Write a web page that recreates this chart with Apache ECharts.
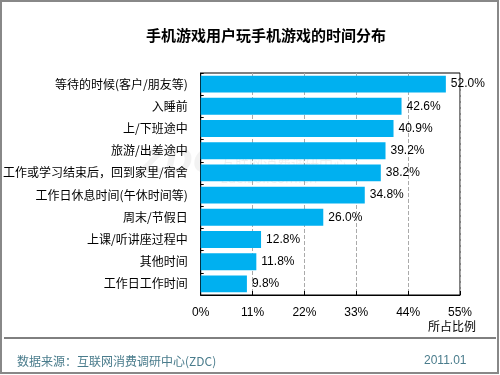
<!DOCTYPE html>
<html>
<head>
<meta charset="utf-8">
<script src="https://cdn.jsdelivr.net/npm/echarts@6/dist/echarts.min.js"></script>
<style>
  html, body { margin: 0; padding: 0; background: #fff; }
  #main { width: 500px; height: 375px; }
</style>
</head>
<body>
<div id="main"></div>
<script>
// 分类（自上而下）
const categories = [
    '等待的时候(客户/朋友等)',
    '入睡前',
    '上/下班途中',
    '旅游/出差途中',
    '工作或学习结束后，回到家里/宿舍',
    '工作日休息时间(午休时间等)',
    '周末/节假日',
    '上课/听讲座过程中',
    '其他时间',
    '工作日工作时间'
];
// 所占比例 (%)
const shares = [52.0, 42.6, 40.9, 39.2, 38.2, 34.8, 26.0, 12.8, 11.8, 9.8];
const axisMax = 55;
const axisStep = 11;

const chart = echarts.init(document.getElementById('main'));
const cnFont = '"Noto Sans CJK SC", "Liberation Sans", sans-serif';
const numFont = '"Liberation Sans", Arial, sans-serif';

chart.setOption({
    animation: false,
    backgroundColor: '#fff',
    textStyle: { fontFamily: cnFont },
    title: {
        text: '手机游戏用户玩手机游戏的时间分布',
        left: 261,
        top: 23,
        textAlign: 'center',
        textStyle: { fontSize: 15, fontWeight: 'bold', color: '#000', fontFamily: cnFont }
    },
    grid: {
        left: 198, right: 40, top: 73, bottom: 80,
        show: true, borderColor: '#000', borderWidth: 1
    },
    xAxis: {
        type: 'value',
        min: 0, max: axisMax, interval: axisStep,
        axisLine: { show: true, lineStyle: { color: '#000' } },
        axisTick: { show: true, inside: true, length: 4, lineStyle: { color: '#000' } },
        axisLabel: { color: '#000', fontSize: 12, margin: 12, fontFamily: numFont, formatter: '{value}%' },
        splitLine: { show: true, lineStyle: { color: '#aaa', type: 'dashed' } }
    },
    yAxis: {
        type: 'category',
        data: categories,
        inverse: true,
        axisLine: { show: true, lineStyle: { color: '#000' } },
        axisTick: { show: true, inside: true, length: 3, lineStyle: { color: '#000' } },
        axisLabel: { color: '#000', fontSize: 12, margin: 13 }
    },
    series: [{
        type: 'bar',
        data: shares,
        barCategoryGap: '24%',
        itemStyle: { color: '#00b0f0' },
        label: {
            show: true,
            position: 'right',
            distance: 5,
            color: '#000',
            fontSize: 12,
            fontFamily: numFont,
            formatter: p => p.value.toFixed(1) + '%'
        }
    }],
    graphic: [
        // 外框
        { type: 'rect', shape: { x: 1, y: 1, width: 497, height: 372 }, style: { fill: 'none', stroke: '#888', lineWidth: 2 }, silent: true },
        // 水印
        { type: 'text', left: 140, top: 147, z: 0, style: { text: 'ZDC', fill: 'rgba(0,0,0,0.05)', font: 'italic bold 34px "DejaVu Sans"' } },
        { type: 'text', left: 221, top: 157, z: 0, style: { text: '互联网消费调研中心', fill: 'rgba(0,0,0,0.06)', font: '14px "Noto Sans CJK SC"' } },
        { type: 'text', left: 221, top: 173, z: 0, style: { text: 'zdc.zol.com.cn', fill: 'rgba(0,0,0,0.06)', font: '13px "DejaVu Sans"' } },
        // 轴名称
        { type: 'text', left: 428, top: 320, style: { text: '所占比例', fill: '#000', font: '12px "Noto Sans CJK SC"' } },
        // 底部分隔线
        { type: 'line', shape: { x1: 4, y1: 338, x2: 496, y2: 338 }, style: { stroke: '#000', lineWidth: 1 } },
        // 数据来源
        { type: 'text', left: 17, top: 355, style: { text: '数据来源：互联网消费调研中心(ZDC)', fill: '#4a7c8c', font: '12px "Noto Sans CJK SC"' } },
        { type: 'text', left: 424, top: 355, style: { text: '2011.01', fill: '#4a7c8c', font: '12px "Liberation Sans"' } }
    ]
});
</script>
</body>
</html>
